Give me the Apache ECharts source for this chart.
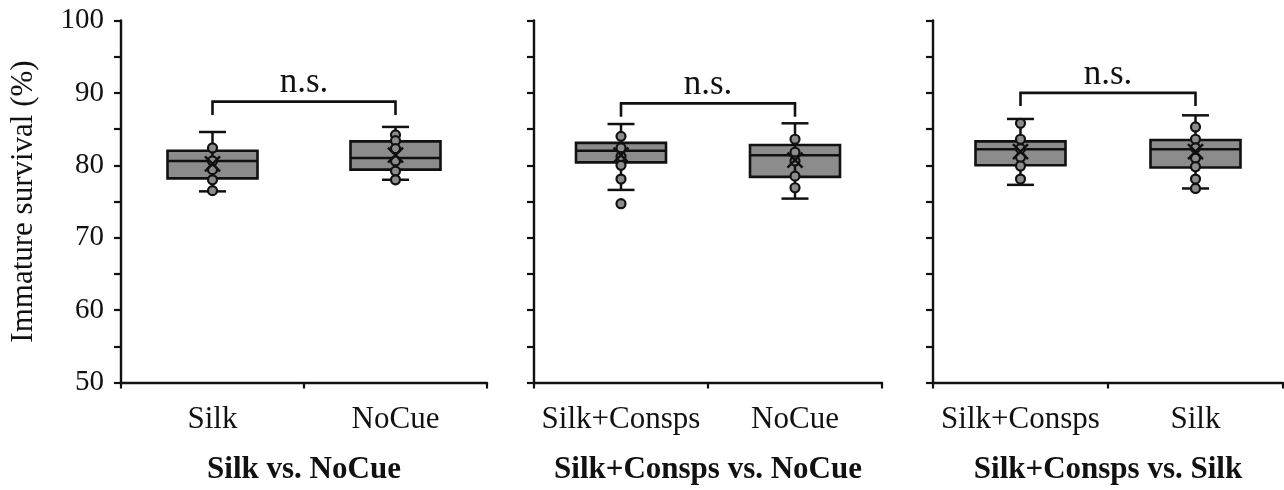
<!DOCTYPE html>
<html><head><meta charset="utf-8">
<script src="https://cdn.jsdelivr.net/npm/echarts@6/dist/echarts.min.js"></script>
<style>html,body{margin:0;padding:0;background:#fff}#c{width:1284px;height:490px}</style>
</head><body><div id="c"></div>
<script>
const panelTitles = ['Silk vs. NoCue', 'Silk+Consps vs. NoCue', 'Silk+Consps vs. Silk'];
const categories1 = ['Silk', 'NoCue'];
const categories2 = ['Silk+Consps', 'NoCue'];
const categories3 = ['Silk+Consps', 'Silk'];
// [whiskerLow, Q1, median, Q3, whiskerHigh]
const boxes1 = [[76.4, 78.2, 80.6, 82.0, 84.6], [78.0, 79.4, 81.0, 83.3, 85.3]];
const boxes2 = [[76.6, 80.4, 82.0, 83.1, 85.7], [75.4, 78.4, 81.4, 82.8, 85.8]];
const boxes3 = [[77.3, 80.0, 82.2, 83.3, 86.4], [76.8, 79.7, 82.2, 83.5, 86.9]];
// individual replicate values
const points1 = [[82.4, 80.6, 79.4, 78.0, 76.5], [84.2, 83.4, 82.3, 80.6, 79.2, 78.0]];
const points2 = [[84.0, 82.4, 81.2, 80.0, 78.1, 74.7], [83.6, 81.8, 80.6, 78.5, 76.9]];
const points3 = [[85.8, 83.6, 82.3, 81.1, 79.9, 78.1], [85.3, 83.6, 82.4, 81.0, 79.8, 78.1, 76.8]];
// means (x markers)
const means1 = [80.2, 81.4];
const means2 = [81.4, 80.7];
const means3 = [81.9, 81.9];
// significance brackets [legLow, top]
const bracket1 = [86.95, 88.8];
const bracket2 = [86.7, 88.55];
const bracket3 = [88.2, 90.0];
const sigLabel = 'n.s.';
const yAxisName = 'Immature survival (%)';
const yMin = 50, yMax = 100, yStep = 5, yLabelStep = 10;

const FONT = '"Liberation Serif", "Times New Roman", serif';
const INK = '#111';
const FILL = '#8c8c8c';

const panels = [
  {cats: categories1, boxes: boxes1, points: points1, means: means1, bracket: bracket1, title: panelTitles[0]},
  {cats: categories2, boxes: boxes2, points: points2, means: means2, bracket: bracket2, title: panelTitles[1]},
  {cats: categories3, boxes: boxes3, points: points3, means: means3, bracket: bracket3, title: panelTitles[2]}
];
const gridPos = [
  {left: 121, width: 366},
  {left: 534, width: 348},
  {left: 933, width: 350}
];

function renderBox(params, api) {
  const x = api.value(0);
  const lo = api.coord([x, api.value(1)]);
  const q1 = api.coord([x, api.value(2)]);
  const md = api.coord([x, api.value(3)]);
  const q3 = api.coord([x, api.value(4)]);
  const hi = api.coord([x, api.value(5)]);
  const cx = lo[0], hw = 45, cw = 13.5;
  const st = {stroke: INK, lineWidth: 2.5, fill: null};
  return {type: 'group', children: [
    {type: 'line', shape: {x1: cx, y1: hi[1], x2: cx, y2: lo[1]}, style: st},
    {type: 'line', shape: {x1: cx - cw, y1: hi[1], x2: cx + cw, y2: hi[1]}, style: st},
    {type: 'line', shape: {x1: cx - cw, y1: lo[1], x2: cx + cw, y2: lo[1]}, style: st},
    {type: 'rect', shape: {x: cx - hw, y: q3[1], width: 2 * hw, height: q1[1] - q3[1]}, style: {fill: FILL, stroke: INK, lineWidth: 2.6}},
    {type: 'line', shape: {x1: cx - hw, y1: md[1], x2: cx + hw, y2: md[1]}, style: st},
    {type: 'line', shape: {x1: cx, y1: q3[1], x2: cx, y2: q1[1]}, style: st}
  ]};
}
function renderMean(params, api) {
  const p = api.coord([api.value(0), api.value(1)]);
  const h = 7.5;
  const st = {stroke: INK, lineWidth: 2.5};
  return {type: 'group', children: [
    {type: 'line', shape: {x1: p[0] - h, y1: p[1] - h, x2: p[0] + h, y2: p[1] + h}, style: st},
    {type: 'line', shape: {x1: p[0] - h, y1: p[1] + h, x2: p[0] + h, y2: p[1] - h}, style: st}
  ]};
}
function renderBracket(params, api) {
  const low = api.value(0), top = api.value(1);
  const a0 = api.coord([0, low]), a1 = api.coord([0, top]);
  const b1 = api.coord([1, top]), b0 = api.coord([1, low]);
  return {type: 'group', children: [
    {type: 'polyline', shape: {points: [a0, a1, b1, b0]}, style: {stroke: INK, lineWidth: 2.6, fill: null}},
    {type: 'text', x: (a1[0] + b1[0]) / 2, y: a1[1] - 1,
      style: {text: sigLabel, font: '35px ' + FONT, fill: INK, align: 'center', verticalAlign: 'bottom'}}
  ]};
}

const grid = [], xAxis = [], yAxis = [], series = [];
panels.forEach((p, i) => {
  grid.push({left: gridPos[i].left, width: gridPos[i].width, top: 20.5, height: 362, outerBoundsMode: 'none'});
  xAxis.push({
    type: 'category', gridIndex: i, data: p.cats, boundaryGap: true,
    axisLine: {show: true, lineStyle: {color: INK, width: 2.4}},
    axisTick: {show: true, length: 6, lineStyle: {color: INK, width: 2.2}},
    axisLabel: {fontFamily: FONT, fontSize: 31, color: INK, margin: 22, interval: 0},
    splitLine: {show: false},
    name: p.title, nameLocation: 'middle', nameGap: 72,
    nameTextStyle: {fontFamily: FONT, fontSize: 31, fontWeight: 'bold', color: INK}
  });
  yAxis.push({
    type: 'value', gridIndex: i, min: yMin, max: yMax, interval: yStep,
    axisLine: {show: true, lineStyle: {color: INK, width: 2.4}},
    axisTick: {show: true, length: 7, lineStyle: {color: INK, width: 2.2}},
    axisLabel: {show: i === 0, fontFamily: FONT, fontSize: 29, color: INK, margin: 17,
      formatter: v => (v % yLabelStep === 0 ? String(v) : '')},
    splitLine: {show: false},
    name: i === 0 ? yAxisName : '', nameLocation: 'middle', nameGap: 82, nameRotate: 90,
    nameTextStyle: {fontFamily: FONT, fontSize: 31, color: INK}
  });
  series.push({
    type: 'custom', xAxisIndex: i, yAxisIndex: i, renderItem: renderBox, z: 2,
    encode: {x: 0, y: [1, 2, 3, 4, 5]},
    data: p.boxes.map((b, k) => [k].concat(b))
  });
  series.push({
    type: 'scatter', xAxisIndex: i, yAxisIndex: i, z: 3,
    symbol: 'circle', symbolSize: 9,
    itemStyle: {color: FILL, borderColor: INK, borderWidth: 2.2, opacity: 1},
    data: p.points.flatMap((arr, k) => arr.map(v => [k, v]))
  });
  series.push({
    type: 'custom', xAxisIndex: i, yAxisIndex: i, renderItem: renderMean, z: 4,
    encode: {x: 0, y: 1},
    data: p.means.map((m, k) => [k, m])
  });
  series.push({
    type: 'custom', xAxisIndex: i, yAxisIndex: i, renderItem: renderBracket, z: 5,
    encode: {y: [0, 1]},
    data: [p.bracket]
  });
});

const chart = echarts.init(document.getElementById('c'), null, {renderer: 'canvas'});
chart.setOption({animation: false, backgroundColor: '#fff', grid, xAxis, yAxis, series, tooltip: {show: false}});
</script>
</body></html>
